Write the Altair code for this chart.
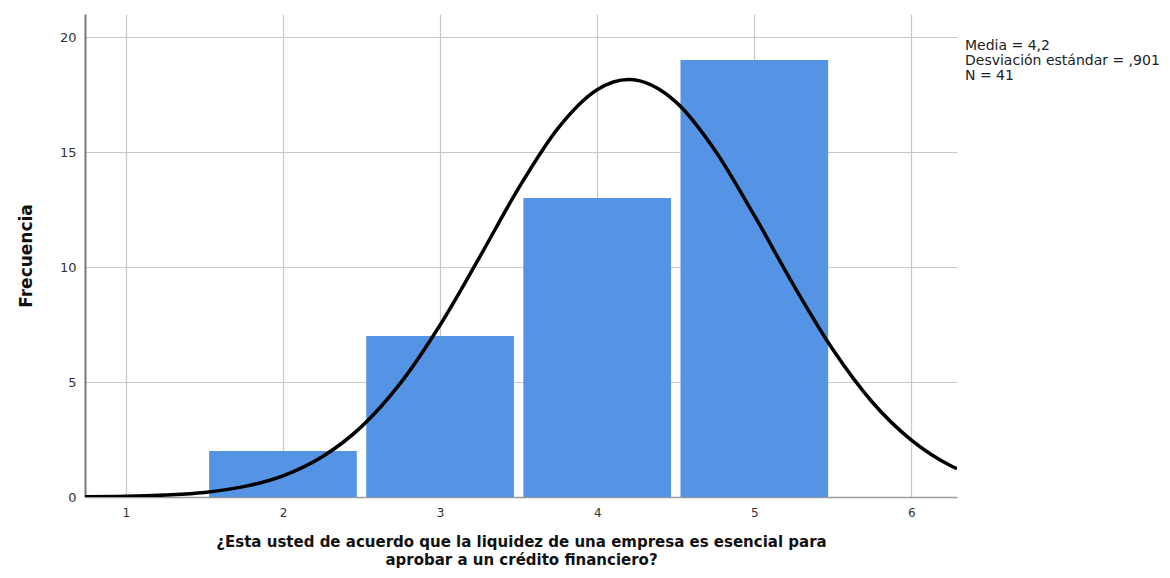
import altair as alt
import pandas as pd

# Histogram bars (category value, frequency)
bar_values = [2, 3, 4, 5]
bar_counts = [2, 7, 13, 19]

# Normal curve (x, frequency)
curve_x = [0.74, 1.0, 1.25, 1.5, 1.75, 2.0, 2.25, 2.5, 2.75, 3.0, 3.25, 3.5, 3.75,
           4.0, 4.2, 4.5, 4.75, 5.0, 5.25, 5.5, 5.75, 6.0, 6.25, 6.29]
curve_y = [0.01, 0.03, 0.09, 0.20, 0.45, 0.92, 1.75, 3.06, 4.97, 7.48, 10.41, 13.43, 16.03,
           17.71, 18.15, 17.18, 15.07, 12.24, 9.21, 6.41, 4.13, 2.47, 1.36, 1.23]

x_ticks = [1, 2, 3, 4, 5, 6]
y_ticks = [0, 5, 10, 15, 20]

stats_lines = ["Media = 4,2", "Desviación estándar = ,901", "N = 41"]
x_title = ["¿Esta usted de acuerdo que la liquidez de una empresa es esencial para",
           "aprobar  a un crédito financiero?"]
y_title = "Frecuencia"

FONT = "DejaVu Sans"
X_DOMAIN = [0.74, 6.29]
Y_DOMAIN = [0, 21]
HALF = 0.47

bars_df = pd.DataFrame({"valor": bar_values, "frecuencia": bar_counts})
curve_df = pd.DataFrame({"x": curve_x, "y": curve_y})
stats_df = pd.DataFrame({"texto": ["\n".join(stats_lines)]})

x_scale = alt.Scale(domain=X_DOMAIN, nice=False, zero=False)
y_scale = alt.Scale(domain=Y_DOMAIN, nice=False)

x_axis = alt.Axis(values=x_ticks, format="d", title=x_title, grid=True, gridColor="#c8c8c8",
                  gridWidth=1.2, domainColor="#9a9a9a", domainWidth=1.5, ticks=False,
                  labelFontSize=12, labelColor="#333333", labelPadding=10, labelFont=FONT,
                  titleFont=FONT, titleFontSize=15, titleFontWeight="bold",
                  titleColor="#111111", titlePadding=16, titleLineHeight=18)
y_axis = alt.Axis(values=y_ticks, title=y_title, grid=True, gridColor="#c8c8c8",
                  gridWidth=1.2, domainColor="#777777", domainWidth=2, ticks=False,
                  labelFontSize=13, labelColor="#333333", labelPadding=9,
                  labelFont=FONT, titleFont=FONT, titleFontSize=17, titleFontWeight="bold",
                  titleColor="#111111", titlePadding=24)

bars = alt.Chart(bars_df).transform_calculate(
    x0=f"datum.valor - {HALF}", x1=f"datum.valor + {HALF}"
).mark_rect(color="#5593E4").encode(
    x=alt.X("x0:Q", scale=x_scale, axis=x_axis),
    x2="x1:Q",
    y=alt.Y("frecuencia:Q", scale=y_scale, axis=y_axis),
    y2=alt.datum(0),
)

curve = alt.Chart(curve_df).mark_line(color="black", strokeWidth=3.5,
                                      interpolate="monotone", clip=True).encode(
    x=alt.X("x:Q", scale=x_scale),
    y=alt.Y("y:Q", scale=y_scale),
)

stats = alt.Chart(stats_df).mark_text(align="left", baseline="top", font=FONT,
                                      fontSize=14, lineHeight=15, lineBreak="\n",
                                      color="#222222").encode(
    x=alt.value(880),
    y=alt.value(25),
    text="texto:N",
)

chart = alt.layer(bars, curve, stats).properties(
    width=872, height=483,
    background="white",
    autosize=alt.AutoSizeParams(type="none"),
    padding={"left": 77, "top": 6, "right": 205, "bottom": 73},
).configure_view(strokeWidth=0, stroke="transparent")

chart.save("out.html", embed_options={"renderer": "svg", "actions": False})
